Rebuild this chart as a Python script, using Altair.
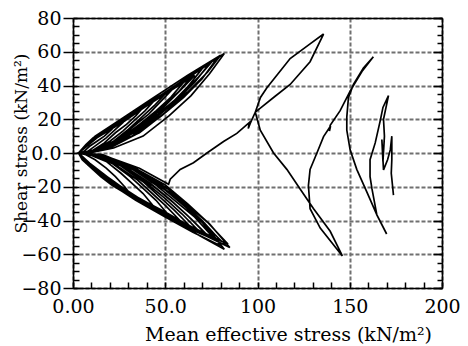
import altair as alt
import pandas as pd

# ---- data (mean effective stress p', shear stress q) ----
MAIN_X = [173.7, 172.5, 172.8, 172.8, 172.0, 170.5, 168.3, 167.4, 168.0, 168.8, 168.3, 171.0,
          168.0, 166.5, 163.8, 161.0, 161.0, 162.0, 164.7, 170.0,
          164.7, 159.3, 153.8, 150.2, 148.4, 148.4, 149.3, 152.0, 157.4, 162.8,
          156.6, 150.2, 144.8, 139.4, 139.0, 139.6, 135.8, 132.2, 128.5, 127.6, 128.5, 134.0, 146.0,
          139.4, 130.3, 123.1, 115.9, 108.7, 101.5, 98.8,
          101.6, 105.1, 117.7, 128.5, 135.8,
          128.5, 117.7, 108.7, 98.8, 96.0, 95.0, 95.5, 88.8, 81.6, 72.6, 65.3, 58.1, 52.7, 51.8,
          36.0, 18.0, 3.0]
MAIN_Y = [-25.0, -12.0, -4.0, 10.0, 2.0, -4.0, -10.0, 8.0, -5.0, 10.0, 20.0, 34.0,
          27.0, 19.0, 6.0, -4.0, -14.0, -21.0, -36.7, -48.0,
          -36.7, -23.2, -9.7, 1.9, 13.5, 21.3, 32.9, 40.6, 50.3, 57.0,
          48.3, 36.7, 25.1, 16.4, 13.0, 16.0, 9.7, 0.0, -9.7, -19.3, -33.0, -44.5, -61.0,
          -46.4, -32.9, -21.3, -9.7, 0.0, 13.5, 24.2,
          32.9, 38.7, 56.0, 64.7, 70.5,
          54.1, 40.6, 32.9, 24.2, 17.4, 14.5, 18.0, 11.6, 6.8, 0.0, -5.8, -9.7, -15.5, -18.5,
          -9.0, -2.0, 0.0]

CYCLES_X = [
    [3, 15, 30, 50, 65, 82, 74, 64, 52, 38, 22, 9, 3, 9, 22, 36, 50, 66, 84, 72, 62, 50, 32, 16, 3],
    [3, 12, 26, 44, 62, 80, 73, 62, 50, 36, 20, 8, 3, 7, 18, 32, 48, 65, 83, 73, 64, 53, 36, 18, 3],
    [3, 14, 28, 48, 62, 78, 70, 60, 48, 34, 20, 8, 3, 8, 20, 34, 50, 68, 85, 74, 63, 51, 34, 17, 3],
    [3, 13, 27, 46, 61, 76, 68, 58, 46, 33, 19, 8, 3, 8, 20, 34, 50, 65, 80, 70, 60, 49, 33, 16, 3],
    [3, 14, 27, 45, 60, 74, 66, 56, 45, 32, 18, 7, 3, 8, 21, 35, 52, 67, 82, 72, 62, 50, 33, 16, 3],
    [3, 13, 26, 42, 56, 70, 62, 53, 42, 30, 17, 7, 3, 7, 19, 33, 48, 64, 80, 70, 60, 48, 32, 16, 3],
    [3, 13, 25, 40, 53, 66, 58, 49, 39, 28, 16, 6, 3, 7, 18, 31, 46, 61, 76, 66, 56, 45, 30, 15, 3],
    [3, 12, 24, 38, 51, 64, 57, 48, 38, 27, 15, 6, 3, 7, 17, 30, 44, 59, 74, 64, 55, 44, 29, 14, 3],
    [3, 12, 23, 36, 48, 60, 53, 45, 36, 26, 15, 6, 3, 7, 17, 29, 43, 58, 72, 62, 53, 42, 28, 14, 3],
    [3, 12, 22, 33, 44, 55, 48, 41, 33, 24, 14, 6, 3, 6, 16, 28, 41, 55, 68, 59, 50, 40, 27, 13, 3],
    [3, 11, 20, 30, 40, 50, 44, 37, 30, 22, 13, 5, 3, 6, 15, 27, 39, 52, 64, 55, 47, 38, 25, 12, 3],
    [3, 10, 18, 27, 36, 44, 39, 33, 27, 20, 12, 5, 3, 6, 14, 25, 36, 47, 58, 50, 43, 35, 23, 11, 3],
    [3, 10, 16, 24, 31, 38, 34, 29, 23, 17, 10, 5, 3, 6, 13, 23, 33, 43, 52, 45, 38, 31, 21, 10, 3],
    [3, 8, 14, 20, 25, 30, 27, 23, 18, 13, 8, 4, 3, 5, 11, 19, 28, 36, 44, 38, 32, 26, 18, 9, 3],
    [3, 7, 11, 16, 20, 24, 21, 17, 13, 9, 6, 4, 3, 5, 10, 15, 21, 27, 33, 28, 23, 18, 12, 7, 3],
]
CYCLES_Y = [
    [0, 11, 21, 36, 47, 59, 47, 34, 22, 10, 3, 0, 0, -6, -17, -27, -35, -45, -54, -40, -30, -19, -8, -1, 0],
    [0, 10, 20, 33, 46, 58, 48, 36, 24, 12, 4, 0, 0, -6, -15, -25, -34, -45, -55, -44, -35, -24, -11, -3, 0],
    [0, 10, 19, 34, 45, 56, 44, 33, 22, 11, 3, 0, 0, -7, -17, -27, -37, -47, -56, -42, -32, -21, -9, -2, 0],
    [0, 10, 20, 33, 44, 55, 45, 34, 23, 12, 4, 0, 0, -7, -18, -28, -38, -47, -55, -41, -31, -21, -9, -2, 0],
    [0, 10, 19, 32, 43, 53, 42, 31, 21, 10, 3, 0, 0, -6, -16, -27, -38, -48, -57, -43, -33, -22, -10, -2, 0],
    [0, 10, 18, 30, 40, 50, 39, 29, 19, 10, 3, 0, 0, -6, -15, -25, -34, -44, -52, -40, -30, -20, -9, -2, 0],
    [0, 9, 17, 28, 37, 46, 37, 27, 18, 9, 2, 0, 0, -6, -15, -24, -33, -42, -50, -38, -29, -19, -8, -1, 0],
    [0, 9, 17, 27, 36, 45, 36, 27, 18, 9, 2, 0, 0, -6, -15, -25, -34, -43, -50, -39, -30, -20, -9, -2, 0],
    [0, 9, 16, 26, 34, 42, 33, 25, 17, 9, 2, 0, 0, -6, -14, -23, -32, -41, -48, -37, -28, -18, -8, -1, 0],
    [0, 9, 16, 24, 32, 39, 31, 23, 16, 8, 2, 0, 0, -5, -13, -22, -31, -39, -46, -36, -27, -18, -8, -1, 0],
    [0, 8, 15, 22, 29, 35, 28, 21, 14, 7, 2, 0, 0, -5, -13, -22, -30, -37, -44, -34, -26, -17, -7, -1, 0],
    [0, 8, 14, 20, 26, 31, 25, 19, 13, 7, 2, 0, 0, -5, -12, -21, -28, -34, -40, -31, -24, -16, -7, -1, 0],
    [0, 7, 12, 18, 23, 27, 22, 17, 12, 6, 1, 0, 0, -5, -11, -19, -26, -32, -37, -28, -21, -14, -6, -1, 0],
    [0, 6, 11, 15, 19, 22, 18, 14, 9, 5, 1, 0, 0, -4, -10, -17, -23, -28, -32, -24, -18, -12, -5, -1, 0],
    [0, 5, 9, 12, 15, 18, 14, 10, 7, 4, 1, 0, 0, -4, -9, -14, -19, -23, -27, -20, -14, -9, -4, -1, 0],
]

X_MAJOR = [0, 50, 100, 150, 200]
X_MINOR = list(range(0, 201, 10))
Y_MAJOR = list(range(-80, 81, 20))
Y_MINOR = list(range(-80, 81, 5))

xs, ys = list(MAIN_X), list(MAIN_Y)
for cx, cy in zip(CYCLES_X, CYCLES_Y):
    xs += cx
    ys += cy
df = pd.DataFrame({"p": xs, "q": ys, "i": range(len(xs))})

W, H = 369, 270
FONT = "DejaVu Serif"

xsc = alt.Scale(domain=[0, 200], nice=False, zero=False)
ysc = alt.Scale(domain=[-80, 80], nice=False, zero=False)

base = alt.Chart(df)

main = base.mark_line(color="black", strokeWidth=1.7).encode(
    x=alt.X("p:Q", scale=xsc, axis=alt.Axis(
        values=X_MAJOR, ticks=False, grid=True, gridDash=[4, 2], gridColor="#707070", gridWidth=2,
        labelFont=FONT, labelFontSize=19, labelColor="black", labelPadding=9, labelFlush=False,
        labelExpr="datum.value == 0 ? '0.00' : (datum.value == 50 ? '50.0' : datum.label)",
        domainColor="black", domainWidth=1.6,
        title="Mean effective stress (kN/m²)", titleFont=FONT, titleFontSize=19,
        titleFontWeight="normal", titleColor="black", titleAnchor="middle",
        titleX=215, titleY=52, titleBaseline="alphabetic")),
    y=alt.Y("q:Q", scale=ysc, axis=alt.Axis(
        values=Y_MAJOR, ticks=True, tickSize=10, tickColor="black", tickWidth=1.5,
        grid=True, gridDash=[4, 2], gridColor="#707070", gridWidth=2,
        labelFont=FONT, labelFontSize=19, labelColor="black", labelPadding=2, labelFlush=False,
        labelExpr="datum.value == 0 ? '0.0' : datum.label",
        domainColor="black", domainWidth=1.6,
        title="Shear stress (kN/m²)", titleFont=FONT, titleFontSize=17,
        titleFontWeight="normal", titleColor="black", titleAngle=-90,
        titleX=-47, titleY=125, titleBaseline="alphabetic", titleAnchor="middle")),
    order="i:Q",
)

ghost = base.mark_line(opacity=0)

inner1 = ghost.encode(
    x=alt.X("p:Q", scale=xsc, axis=alt.Axis(
        orient="top", offset=-H, values=X_MINOR, tickSize=6, tickColor="black", tickWidth=1.5,
        labels=False, domain=False, grid=False, title=None)),
    y=alt.Y("q:Q", scale=ysc, axis=alt.Axis(
        orient="right", offset=-W, values=Y_MINOR, tickSize=6, tickColor="black", tickWidth=1.5,
        labels=False, domain=False, grid=False, title=None)),
    order="i:Q",
)

inner2 = ghost.encode(
    x=alt.X("p:Q", scale=xsc, axis=alt.Axis(
        orient="top", offset=0, ticks=False, labels=False, domain=True,
        domainColor="black", domainWidth=1.6, grid=False, title=None)),
    y=alt.Y("q:Q", scale=ysc, axis=alt.Axis(
        orient="left", offset=-W, values=Y_MINOR, tickSize=5, tickColor="black", tickWidth=1.5,
        labels=False, domain=True, domainColor="black", domainWidth=1.6, grid=False, title=None)),
    order="i:Q",
)

inner3 = ghost.encode(
    x=alt.X("p:Q", scale=xsc, axis=None),
    y=alt.Y("q:Q", scale=ysc, axis=alt.Axis(
        orient="left", offset=-W, values=Y_MAJOR, tickSize=9, tickColor="black", tickWidth=1.5,
        labels=False, domain=False, grid=False, title=None)),
    order="i:Q",
)

chart = alt.layer(main, inner1, inner2, inner3).resolve_scale(
    x="independent", y="independent"
).properties(
    width=W, height=H, autosize="none",
    padding={"left": 65, "top": 10, "right": 18, "bottom": 58},
).configure_view(stroke=None).configure(background="white")

chart.save("out.html", embed_options={"renderer": "svg", "actions": False})
